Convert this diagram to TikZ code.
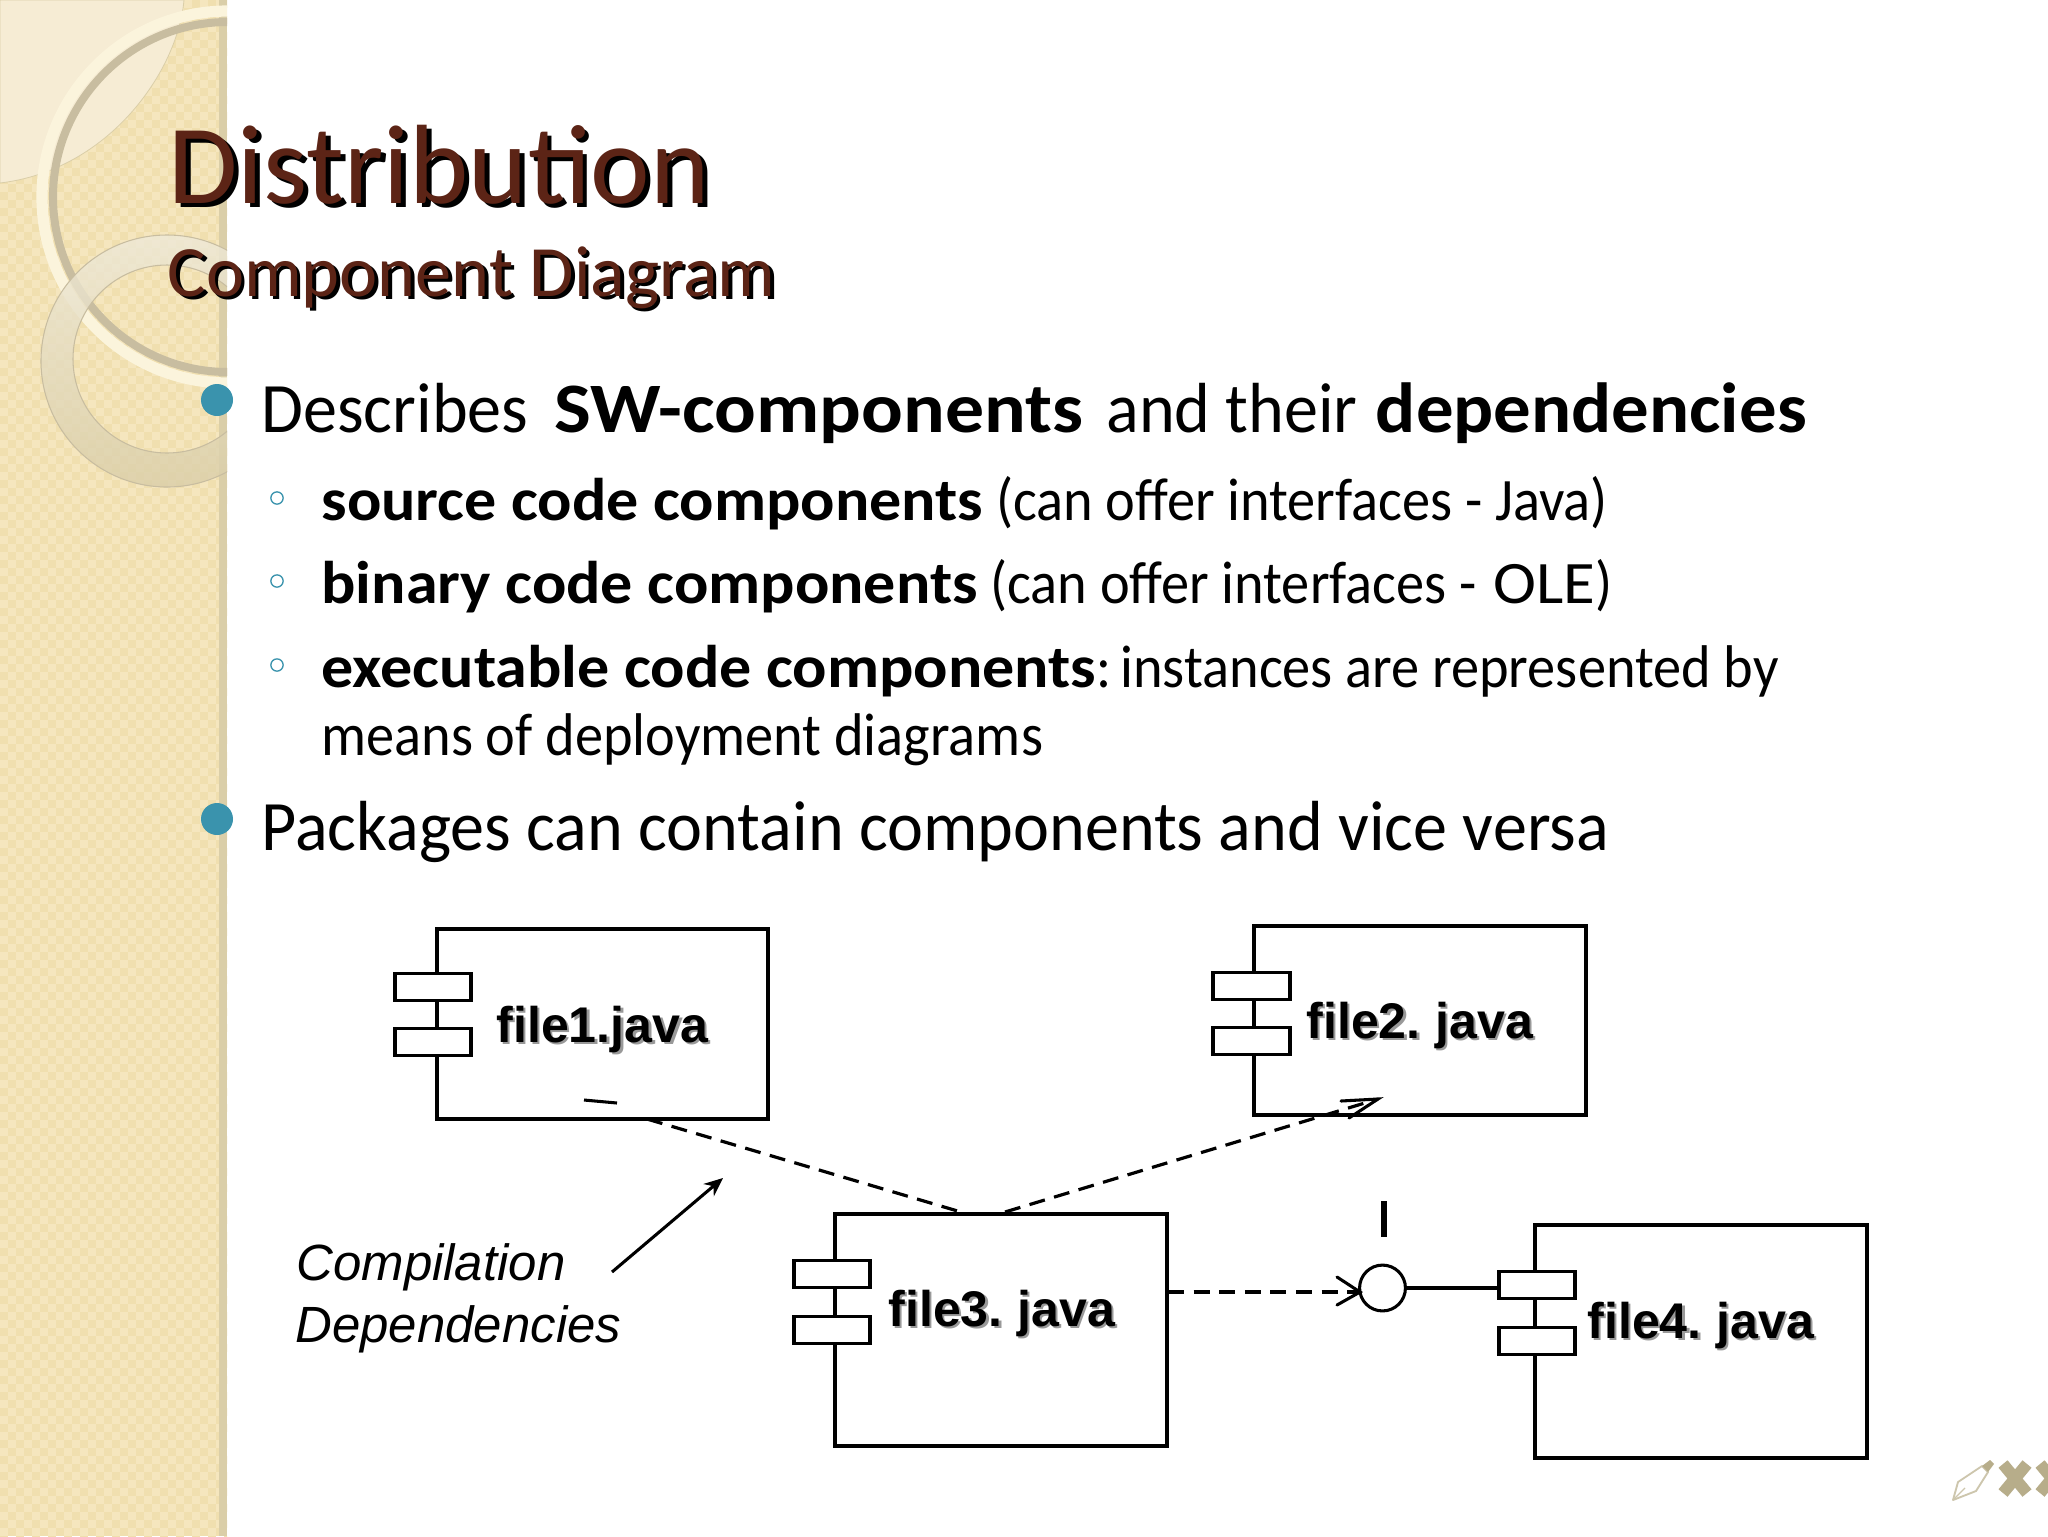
\documentclass[tikz,border=0pt]{standalone}
\usepackage{fontspec}
\setmainfont{Carlito}
\newfontfamily\arialf{Liberation Sans}
\newfontfamily\gillA{Carlito}[FakeStretch=0.96,BoldFeatures={FakeStretch=1.055}]
\newfontfamily\gillB{Carlito}[FakeStretch=0.935,BoldFeatures={FakeStretch=1.063}]
\usetikzlibrary{arrows.meta}
\definecolor{panelA}{HTML}{F5E6BE}
\definecolor{panelB}{HTML}{F0DFAF}
\definecolor{strip}{HTML}{DACEA8}
\definecolor{corner}{HTML}{F6ECD4}
\definecolor{ringlight}{HTML}{FBF4DC}
\definecolor{ringdark}{HTML}{C8BDA0}
\definecolor{titlebrown}{HTML}{5C2416}
\definecolor{teal}{HTML}{3A93AD}
\definecolor{xtan}{HTML}{B7AD8A}
\newcommand{\shadowed}[4]{\rlap{\kern#2\raisebox{-#2}{\color{#3}#1}}{\color{#4}#1}}
\newcommand{\flabeltext}[1]{\spaceskip=3.8pt\relax\shadowed{#1}{0.9pt}{black!40}{black}}
\newcommand{\compbox}[9]{%
  % name, left, top, right, bottom, tab left, tab right, tab 1 y, tab 2 y
  \pgfmathsetmacro{\cw}{#4-#2}\pgfmathsetmacro{\ch}{#5-#3}
  \pgfmathsetmacro{\cx}{(#4+#2)/2}\pgfmathsetmacro{\cy}{(#5+#3)/2}
  \node[compbody,minimum width=\cw*0.375pt,minimum height=\ch*0.375pt] (#1) at (\cx,\cy) {};
  \pgfmathsetmacro{\tw}{#7-#6}\pgfmathsetmacro{\tx}{(#7+#6)/2}
  \node[comptab,minimum width=\tw*0.375pt] (#1-t1) at (\tx,#8) {};
  \node[comptab,minimum width=\tw*0.375pt] (#1-t2) at (\tx,#9) {};
}
\tikzset{
  compbody/.style={draw=black,line width=1.15pt,fill=white,rectangle,inner sep=0pt,outer sep=0pt},
  comptab/.style={draw=black,line width=1.15pt,fill=white,rectangle,inner sep=0pt,outer sep=0pt,minimum height=10.2pt},
  flabel/.style={anchor=base west,inner sep=0pt,font=\arialf\bfseries\fontsize{18.8pt}{20pt}\selectfont},
  nlabel/.style={anchor=base west,inner sep=0pt,font=\arialf\itshape\fontsize{19.1pt}{20pt}\selectfont},
  lvlone/.style={anchor=base west,inner sep=0pt,font=\gillA\fontsize{26.6pt}{30pt}\selectfont},
  lvltwo/.style={anchor=base west,inner sep=0pt,font=\gillB\fontsize{22.6pt}{26pt}\selectfont},
  bigdot/.style={circle,fill=teal,minimum size=12pt,inner sep=0pt},
  smalldot/.style={circle,draw=teal,line width=0.5pt,fill=white,minimum size=4.6pt,inner sep=0pt},
  depline/.style={line width=1.2pt,dash pattern=on 6pt off 3.6pt},
  openhead/.style={line width=1.15pt,line cap=round,line join=miter},
}
\begin{document}
\begin{tikzpicture}[x=0.375pt,y=-0.375pt]
\useasboundingbox (0,0) rectangle (2048,1536);
\fill[white] (0,0) rectangle (2048,1536);
% left panel
\begin{scope}
\clip (0,0) rectangle (227,1536);
\fill[panelA] (0,0) rectangle (227,1536);
\foreach \i in {0,...,28}{\foreach \j in {0,...,192}{
  \pgfmathparse{int(mod(\i+\j,2))}
  \ifnum\pgfmathresult=0 \fill[panelB] (\i*8,\j*8) rectangle ++(8,8);\fi
}}
\fill[strip] (219,0) rectangle (227,1536);
\fill[corner,draw=strip,line width=0.3pt] (0,0) -- (184,0) .. controls (178,70) and (110,170) .. (0,183) -- cycle;
\draw[ringlight,line width=4.2pt] (228,197) circle (186);
\draw[ringdark,line width=3pt] (228,197) circle (175);
\path[even odd rule,top color=strip!45!white,bottom color=strip,draw=ringdark,line width=0.4pt,fill opacity=0.8]
  (167,361) circle (126) (167,359) circle (94);
\end{scope}
% title
\node[anchor=base west,inner sep=0pt,font=\fontsize{42.3pt}{44pt}\selectfont] (ttl) at (168,203) {\shadowed{Distribution}{1.8pt}{black}{titlebrown}};
\node[anchor=base west,inner sep=0pt,font=\fontsize{27.1pt}{30pt}\selectfont] (sub) at (167,296) {\shadowed{Component Diagram}{1.3pt}{black}{titlebrown}};
% bullets
\node[bigdot] (b1) at (217,400) {};
\node[bigdot] (b2) at (217,819) {};
\node[smalldot] (s1) at (277,498) {};
\node[smalldot] (s2) at (277,581) {};
\node[smalldot] (s3) at (277,665) {};
% body text
\node[lvlone] (l1) at (261,432) {Describes\kern3.9pt{} \scalebox{1.04}[1]{\textbf{SW-components}}\kern2.9pt{} and their\kern1pt{} \textbf{dependencies}};
\node[lvltwo] (l2) at (321,520) {\textbf{source code components} (can offer interfaces - Java)};
\node[lvltwo] (l3) at (321,603) {\textbf{binary code components} (can offer interfaces -\kern1.5pt{} \scalebox{1.15}[1]{OLE})};
\node[lvltwo] (l4) at (321,687) {\textbf{executable code components}:\kern-3pt{} instances are represented by};
\node[lvltwo] (l5) at (321,755) {means of deployment diagrams};
\node[lvlone] (l6) at (261,850) {Packages can contain components and vice versa};
% components
\compbox{f1}{437}{929}{768}{1119}{395}{471}{987}{1042}
\compbox{f2}{1254}{926}{1586}{1115}{1213}{1290}{986}{1041}
\compbox{f3}{835}{1214}{1167}{1446}{794}{870}{1274}{1330}
\compbox{f4}{1535}{1225}{1867}{1458}{1499}{1575}{1285}{1341}
\node[flabel] (f1l) at (496,1042) {\flabeltext{file1.java}};
\node[flabel] (f2l) at (1306,1038) {\flabeltext{file2. java}};
\node[flabel] (f3l) at (888,1326) {\flabeltext{file3. java}};
\node[flabel] (f4l) at (1587,1338) {\flabeltext{file4. java}};
\node[nlabel] (n1) at (296,1280) {Compilation};
\node[nlabel] (n2) at (295,1342) {Dependencies};
% interface
\node[circle,draw=black,line width=1.15pt,fill=white,minimum size=17.2pt,inner sep=0pt] (iface) at (1382.5,1288) {};
\draw[line width=1.15pt] (iface.east) -- (iface.east -| f4-t1.west);
% free ends
\coordinate (d1a) at (647,1119); \coordinate (d1b) at (961,1212);
\coordinate (d2a) at (1005,1212); \coordinate (d2b) at (1378,1099);
\coordinate (d2c) at (1341,1101); \coordinate (d2d) at (1349,1118);
\coordinate (d3a) at (1168,1292); \coordinate (d3b) at (1360,1292);
\coordinate (d3c) at (1337,1277); \coordinate (d3d) at (1337,1305);
\coordinate (na) at (612,1272); \coordinate (nb) at (723,1178);
\coordinate (ta) at (584,1100); \coordinate (tb) at (617,1103);
\coordinate (ua) at (1384,1201); \coordinate (ub) at (1384,1237);
\draw[depline] (d1a) -- (d1b);
\draw[depline] (d2a) -- (d2b);
\draw[openhead] (d2c) -- (d2b) -- (d2d);
\draw[depline] (d3a) -- (d3b);
\draw[openhead] (d3c) -- (d3b) -- (d3d);
\draw[line width=1.15pt,-{Stealth[length=7pt,width=6pt]}] (na) -- (nb);
\draw[line width=1.15pt] (ta) -- (tb);
\draw[line width=2.2pt] (ua) -- (ub);
% pen and crosses
\draw[xtan!70!white,line width=0.7pt,line join=round] (1953,1500) -- (1958,1482) -- (1982,1466) -- (1988,1472) -- (1976,1491) -- cycle;
\draw[xtan!70!white,line width=0.5pt] (1953,1500) -- (1965,1488);
\fill[xtan] (1982,1466) -- (1990,1460) -- (1994,1464) -- (1988,1472) -- cycle;
\begin{scope}
\clip (1995,1450) rectangle (2048,1510);
\draw[xtan,line width=4.4pt] (2003,1493) -- (2027,1464);
\draw[xtan,line width=4.4pt] (2003,1464) -- (2027,1493);
\draw[xtan,line width=4.4pt] (2040,1493) -- (2064,1464);
\draw[xtan,line width=4.4pt] (2040,1464) -- (2064,1493);
\end{scope}
\end{tikzpicture}
\end{document}
